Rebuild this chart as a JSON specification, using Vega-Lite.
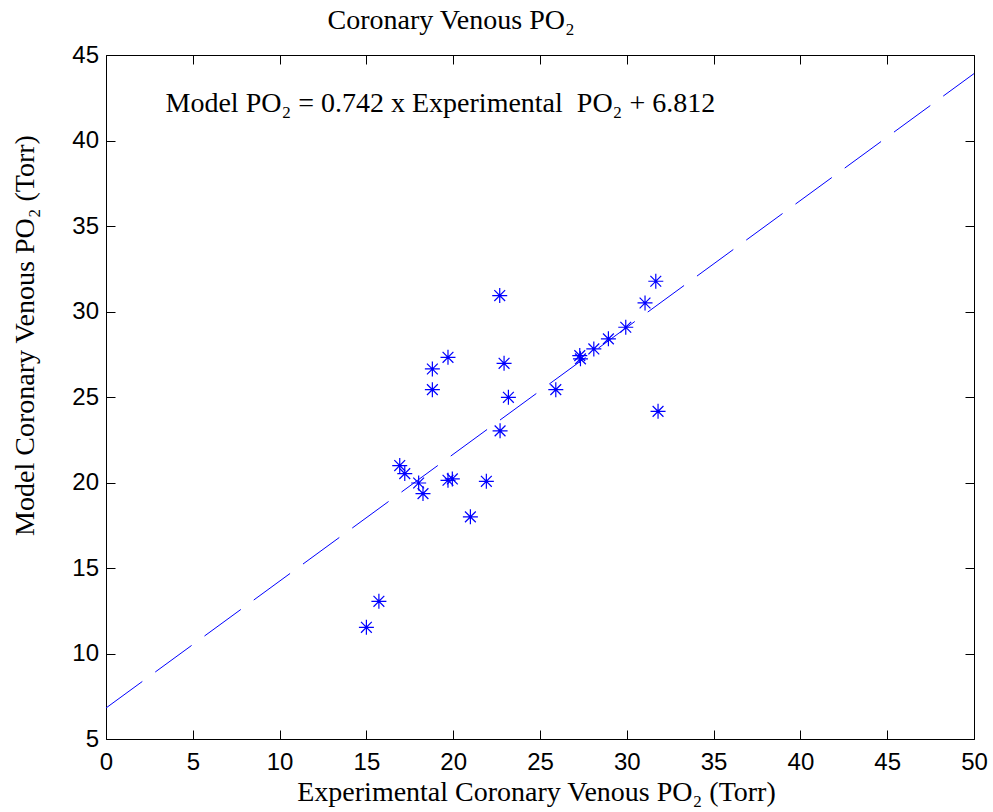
{
  "$schema": "https://vega.github.io/schema/vega-lite/v6.json",
  "autosize": "none",
  "padding": {"left": 106, "top": 55, "right": 19, "bottom": 73},
  "width": 868,
  "height": 684,
  "background": "white",
  "datasets": {
    "points": [
      {"exp": 15.0, "model": 11.53},
      {"exp": 15.72, "model": 13.05},
      {"exp": 16.92, "model": 20.99},
      {"exp": 17.21, "model": 20.52},
      {"exp": 18.01, "model": 19.97},
      {"exp": 18.26, "model": 19.35},
      {"exp": 18.8, "model": 26.64},
      {"exp": 18.8, "model": 25.43},
      {"exp": 19.7, "model": 27.32},
      {"exp": 19.7, "model": 20.13},
      {"exp": 19.95, "model": 20.21},
      {"exp": 20.99, "model": 17.99},
      {"exp": 21.91, "model": 20.07},
      {"exp": 22.68, "model": 30.93},
      {"exp": 22.7, "model": 23.02},
      {"exp": 22.93, "model": 26.97},
      {"exp": 23.18, "model": 24.98},
      {"exp": 25.91, "model": 25.43},
      {"exp": 27.29, "model": 27.42},
      {"exp": 27.33, "model": 27.23},
      {"exp": 28.1, "model": 27.81},
      {"exp": 28.94, "model": 28.4},
      {"exp": 29.94, "model": 29.08},
      {"exp": 31.05, "model": 30.5},
      {"exp": 31.67, "model": 31.77},
      {"exp": 31.8, "model": 24.16}
    ],
    "fit": [
      {"exp": 0, "model": 6.812},
      {"exp": 50, "model": 43.912}
    ],
    "note": [
      {"exp": 3.43, "model": 41.64, "label": "Model PO₂ = 0.742 x Experimental\u00a0 PO₂ + 6.812"}
    ]
  },
  "layer": [
    {
      "data": {"name": "fit"},
      "mark": {"type": "line", "color": "#0000ff", "strokeWidth": 1, "strokeDash": [45, 16], "clip": true},
      "encoding": {
        "x": {
          "field": "exp", "type": "quantitative",
          "scale": {"domain": [0, 50], "nice": false, "zero": false},
          "axis": {
            "orient": "bottom",
            "title": "Experimental Coronary Venous PO₂ (Torr)",
            "values": [0, 5, 10, 15, 20, 25, 30, 35, 40, 45, 50],
            "titleX": 430, "titleY": 61, "titleAlign": "center", "titleBaseline": "alphabetic", "titleAnchor": null
          }
        },
        "y": {
          "field": "model", "type": "quantitative",
          "scale": {"domain": [5, 45], "nice": false, "zero": false},
          "axis": {
            "orient": "left",
            "title": "Model Coronary Venous PO₂ (Torr)",
            "values": [5, 10, 15, 20, 25, 30, 35, 40, 45],
            "titleX": -73, "titleY": 280, "titleAlign": "center", "titleBaseline": "alphabetic", "titleAngle": -90, "titleAnchor": null,
            "labelPadding": 16.5
          }
        }
      }
    },
    {
      "data": {"name": "points"},
      "mark": {
        "type": "point",
        "shape": "M-1,0L1,0M0,-1L0,1M-0.72,-0.72L0.72,0.72M-0.72,0.72L0.72,-0.72",
        "filled": false,
        "stroke": "#0000ff",
        "strokeWidth": 1.2,
        "size": 225,
        "opacity": 1
      },
      "encoding": {
        "x": {
          "field": "exp", "type": "quantitative",
          "axis": {
            "orient": "top", "labels": false,
            "title": "Coronary Venous PO₂",
            "titleX": 221, "titleY": -27, "titleAlign": "left", "titleBaseline": "alphabetic", "titleAnchor": null,
            "values": [0, 5, 10, 15, 20, 25, 30, 35, 40, 45, 50]
          }
        },
        "y": {
          "field": "model", "type": "quantitative",
          "axis": {"orient": "right", "labels": false, "title": null, "values": [5, 10, 15, 20, 25, 30, 35, 40, 45]}
        }
      }
    },
    {
      "data": {"name": "note"},
      "mark": {"type": "text", "align": "left", "baseline": "alphabetic", "font": "Liberation Serif", "fontSize": 28, "color": "black"},
      "encoding": {
        "x": {"field": "exp", "type": "quantitative", "axis": null},
        "y": {"field": "model", "type": "quantitative", "axis": null},
        "text": {"field": "label"}
      }
    }
  ],
  "config": {
    "view": {"stroke": null},
    "axis": {
      "grid": false,
      "domain": true,
      "domainColor": "black",
      "domainWidth": 1,
      "ticks": true,
      "tickColor": "black",
      "tickWidth": 1,
      "tickSize": -9,
      "labelFont": "Liberation Sans",
      "labelFontSize": 24,
      "labelColor": "black",
      "labelFlush": false,
      "labelOverlap": false,
      "titleFont": "Liberation Serif",
      "titleFontSize": 28,
      "titleFontWeight": "normal",
      "titleColor": "black"
    },
    "axisX": {"labelPadding": 20},
    "axisY": {"labelPadding": 16.5}
  }
}
